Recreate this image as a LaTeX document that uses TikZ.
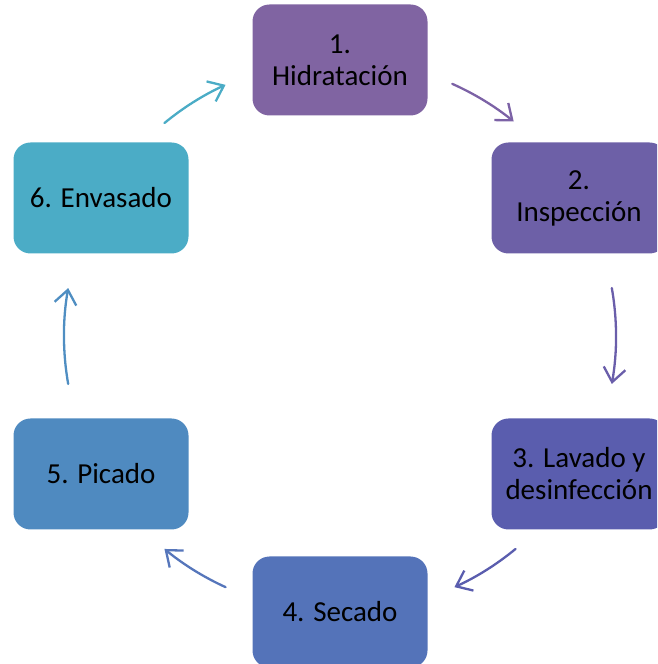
\documentclass[tikz,border=0pt]{standalone}
\usepackage{fontspec}
\setmainfont{Carlito}
\usetikzlibrary{arrows.meta}
\definecolor{b1c}{HTML}{8064A2}
\definecolor{b2c}{HTML}{6D60A7}
\definecolor{b3c}{HTML}{5A5DAE}
\definecolor{b4c}{HTML}{5473B9}
\definecolor{b5c}{HTML}{4F8AC0}
\definecolor{b6c}{HTML}{4BACC6}
\definecolor{a1c}{HTML}{7C62A6}
\definecolor{a2c}{HTML}{6A5EAA}
\definecolor{a3c}{HTML}{5A5DAE}
\definecolor{a4c}{HTML}{5676BB}
\definecolor{a5c}{HTML}{4F8EC2}
\definecolor{a6c}{HTML}{4BACC6}
\begin{document}
\begin{tikzpicture}[x=1pt,y=1pt,
  stepbox/.style={rectangle, rounded corners=17pt, minimum width=175pt, minimum height=111pt,
    inner sep=0pt, align=center, font=\fontsize{29}{32}\selectfont, text=black},
  cyc/.style={line width=2.3pt, line cap=round, -{Straight Barb[length=14pt,width=22pt]}}]
\clip (0,0) rectangle (657,664);
\coordinate (C) at (340,328);
\node[stepbox, fill=b1c] (b1) at (340,604) {1.\\Hidratación};
\node[stepbox, fill=b2c] (b2) at (579,466) {2.\\Inspección};
\node[stepbox, fill=b3c] (b3) at (579,190) {3. Lavado y\\desinfección};
\node[stepbox, fill=b4c] (b4) at (340,52) {4. Secado};
\node[stepbox, fill=b5c] (b5) at (101,190) {5. Picado};
\node[stepbox, fill=b6c] (b6) at (101,466) {6. Envasado};
\coordinate (s12) at ([shift={(66:276)}]C);
\coordinate (s23) at ([shift={(10:276)}]C);
\coordinate (s34) at ([shift={(-50.5:276)}]C);
\coordinate (s45) at ([shift={(-114.5:276)}]C);
\coordinate (s56) at ([shift={(-170:276)}]C);
\coordinate (s61) at ([shift={(129.5:276)}]C);
\draw[cyc, color=a1c] (s12) arc[start angle=66, end angle=51, radius=276];
\draw[cyc, color=a2c] (s23) arc[start angle=10, end angle=-10, radius=276];
\draw[cyc, color=a3c] (s34) arc[start angle=-50.5, end angle=-65.5, radius=276];
\draw[cyc, color=a4c] (s45) arc[start angle=-114.5, end angle=-129.5, radius=276];
\draw[cyc, color=a5c] (s56) arc[start angle=-170, end angle=-190, radius=276];
\draw[cyc, color=a6c] (s61) arc[start angle=129.5, end angle=114.5, radius=276];
\end{tikzpicture}
\end{document}
